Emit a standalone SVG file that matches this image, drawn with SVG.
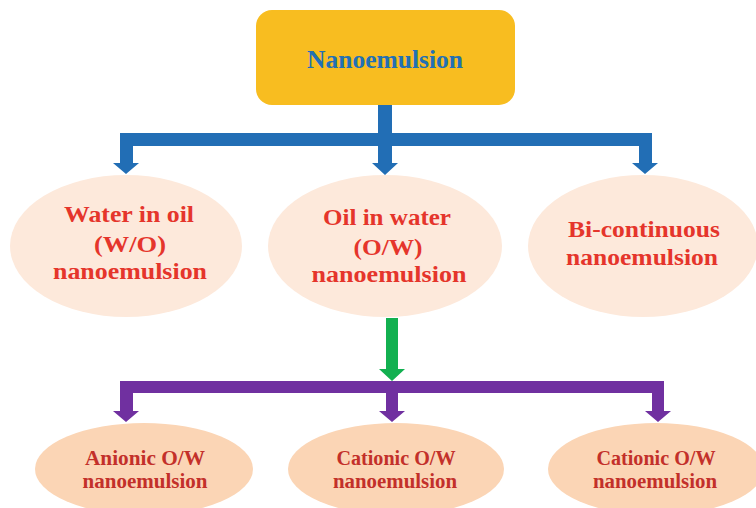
<svg xmlns="http://www.w3.org/2000/svg" width="756" height="508" viewBox="0 0 756 508">
<style>
.t{font-family:"Liberation Serif","Times New Roman",serif;font-weight:bold;text-anchor:middle}
.top{font-size:25px;fill:#2270B4}
.mid{font-size:23px;fill:#E5352B}
.bot{font-size:20px;fill:#C3302A}
.e1{fill:#FDE9DB}
.e2{fill:#FBD5B5}
.blue{fill:#226EB5}
.green{fill:#12B050}
.purple{fill:#7030A0}
</style>
<rect width="756" height="508" fill="#FFFFFF"/>
<g id="nanoemulsion">
<rect x="256" y="10" width="259" height="95" rx="16" ry="16" fill="#F8BD20"/>
<text class="t top" x="385" y="68" textLength="156" lengthAdjust="spacingAndGlyphs">Nanoemulsion</text>
</g>
<g id="water-in-oil">
<ellipse class="e1" cx="126" cy="246" rx="116" ry="71"/>
<text class="t mid" x="129" y="222" textLength="130" lengthAdjust="spacingAndGlyphs">Water in oil</text>
<text class="t mid" x="130" y="252" textLength="72" lengthAdjust="spacingAndGlyphs">(W/O)</text>
<text class="t mid" x="130" y="279" textLength="154" lengthAdjust="spacingAndGlyphs">nanoemulsion</text>
</g>
<g id="oil-in-water">
<ellipse class="e1" cx="385" cy="246" rx="117" ry="71"/>
<text class="t mid" x="387" y="225" textLength="128" lengthAdjust="spacingAndGlyphs">Oil in water</text>
<text class="t mid" x="388" y="255" textLength="69" lengthAdjust="spacingAndGlyphs">(O/W)</text>
<text class="t mid" x="389" y="282" textLength="155" lengthAdjust="spacingAndGlyphs">nanoemulsion</text>
</g>
<g id="bi-continuous">
<ellipse class="e1" cx="643" cy="246" rx="115" ry="71"/>
<text class="t mid" x="644" y="237" textLength="152" lengthAdjust="spacingAndGlyphs">Bi-continuous</text>
<text class="t mid" x="642" y="265" textLength="152" lengthAdjust="spacingAndGlyphs">nanoemulsion</text>
</g>
<g id="anionic">
<ellipse class="e2" cx="144" cy="469" rx="109" ry="46"/>
<text class="t bot" x="145" y="465" textLength="120" lengthAdjust="spacingAndGlyphs">Anionic O/W</text>
<text class="t bot" x="145" y="488" textLength="125" lengthAdjust="spacingAndGlyphs">nanoemulsion</text>
</g>
<g id="cationic-1">
<ellipse class="e2" cx="396" cy="469" rx="108" ry="46"/>
<text class="t bot" x="396" y="465" textLength="119" lengthAdjust="spacingAndGlyphs">Cationic O/W</text>
<text class="t bot" x="395" y="488" textLength="124" lengthAdjust="spacingAndGlyphs">nanoemulsion</text>
</g>
<g id="cationic-2">
<ellipse class="e2" cx="656" cy="469" rx="108" ry="46"/>
<text class="t bot" x="656" y="465" textLength="119" lengthAdjust="spacingAndGlyphs">Cationic O/W</text>
<text class="t bot" x="655" y="488" textLength="124" lengthAdjust="spacingAndGlyphs">nanoemulsion</text>
</g>
<g id="connectors">
<rect class="blue" x="378" y="105" width="14" height="29"/>
<rect class="blue" x="120" y="133" width="532" height="13"/>
<polygon class="blue" points="120,145 133,145 133,163 139,163 126,174 113,163 120,163"/>
<polygon class="blue" points="378,145 392,145 392,163 398,163 385,175 372,163 378,163"/>
<polygon class="blue" points="639,145 652,145 652,163 658,163 645,174 632,163 639,163"/>
<polygon class="green" points="386,318 398,318 398,369 405,369 392,381 379,369 386,369"/>
<rect class="purple" x="120" y="381" width="544" height="12"/>
<polygon class="purple" points="120,392 133,392 133,411 139,411 126,422 113,411 120,411"/>
<polygon class="purple" points="386,392 398,392 398,411 405,411 392,422 379,411 386,411"/>
<polygon class="purple" points="652,392 664,392 664,411 671,411 658,422 645,411 652,411"/>
</g>
</svg>
